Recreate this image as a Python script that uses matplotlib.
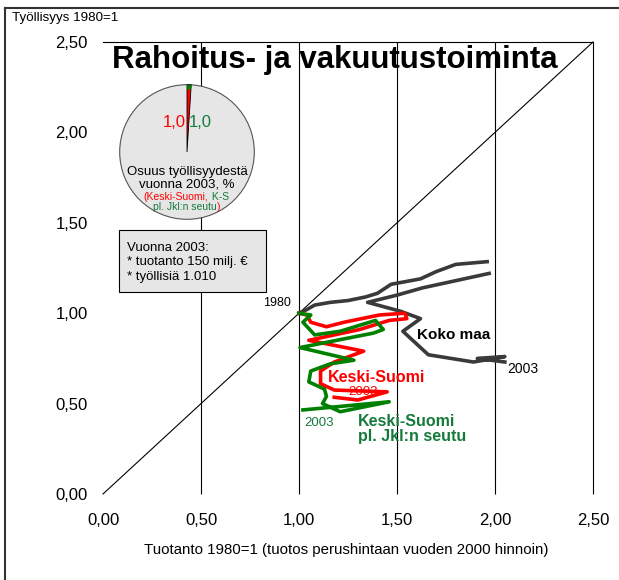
import matplotlib
matplotlib.use('Agg')
import matplotlib.pyplot as plt
from matplotlib.patches import Wedge, Circle, Rectangle
from matplotlib.lines import Line2D

plt.rcParams['font.family'] = ['Liberation Sans', 'DejaVu Sans']

nan = float('nan')

# Tuotanto (x) ja työllisyys (y), 1980=1
koko_x = [1.00, 1.04, 1.08, 1.16, 1.25, 1.34, 1.40, 1.47, 1.62, 1.70, 1.80, 1.96, nan,
          1.97, 1.80, 1.63, 1.50, 1.35, 1.52, 1.62, 1.53, 1.66, 1.89, 2.05, 1.91, 2.05]
koko_y = [1.00, 1.02, 1.045, 1.06, 1.07, 1.09, 1.11, 1.16, 1.19, 1.23, 1.27, 1.285, nan,
          1.22, 1.18, 1.14, 1.10, 1.06, 1.01, 0.97, 0.90, 0.77, 0.73, 0.76, 0.75, 0.73]

ks_x = [1.00, 1.04, 1.06, 1.14, 1.23, 1.41, 1.54, 1.55, 1.46, 1.31, 1.05, 1.33,
        1.18, 1.11, 1.11, 1.18, 1.45, 1.30, 1.18]
ks_y = [1.00, 0.99, 0.95, 0.925, 0.95, 0.99, 1.00, 0.97, 0.96, 0.91, 0.85, 0.79,
        0.73, 0.68, 0.61, 0.575, 0.565, 0.52, 0.535]

ksj_x = [1.00, 1.06, 1.02, 1.08, 1.21, 1.39, 1.43, 1.38, 1.005, 1.28, 1.16, 1.06,
         1.05, 1.13, 1.14, 1.12, 1.21, 1.46, 1.02]
ksj_y = [1.00, 0.99, 0.95, 0.88, 0.90, 0.96, 0.91, 0.89, 0.81, 0.74, 0.72, 0.68,
         0.62, 0.58, 0.54, 0.50, 0.455, 0.51, 0.465]

# osuus koko maan työllisyydestä 2003, %
osuus_ks = 1.0
osuus_ksj = 1.0

ticks = [0.0, 0.5, 1.0, 1.5, 2.0, 2.5]
tick_labels = ['%.2f' % t for t in ticks]
tick_labels = [s.replace('.', ',') for s in tick_labels]

W, H = 619, 580
fig = plt.figure(figsize=(W / 100, H / 100), dpi=100)

def fx(px):
    return px / W

def fy(py):
    return 1 - py / H

ax = fig.add_axes([fx(103), fy(494), 490 / W, 452 / H])
ax.set_xlim(0, 2.5)
ax.set_ylim(0, 2.5)
for s in ['left', 'right', 'bottom']:
    ax.spines[s].set_visible(False)
ax.spines['top'].set_linewidth(0.8)
ax.vlines(ticks[1:], 0, 2.5, color='black', lw=0.8, clip_on=False)
ax.plot([0, 2.5], [0, 2.5], color='black', lw=0.8, clip_on=False)

ax.set_xticks(ticks)
ax.set_xticklabels(tick_labels)
ax.set_yticks(ticks)
ax.set_yticklabels(tick_labels)
ax.tick_params(axis='both', length=0, labelsize=12)
ax.tick_params(axis='x', pad=14)
ax.tick_params(axis='y', pad=11)

lw = 2.6
ax.plot(koko_x, koko_y, color='#3a3a3a', lw=lw, solid_joinstyle='round', zorder=3)
ax.plot(ks_x, ks_y, color='#ff0000', lw=lw, solid_joinstyle='round', zorder=4)
ax.plot(ksj_x, ksj_y, color='#008000', lw=lw, solid_joinstyle='round', zorder=5)

green_txt = '#157a3c'
ax.text(0.89, 1.056, '1980', fontsize=9, ha='center', va='center')
ax.text(1.60, 0.88, 'Koko maa', fontsize=11, fontweight='bold', ha='left', va='center')
ax.text(2.065, 0.69, '2003', fontsize=10, ha='left', va='center')
ax.text(1.148, 0.645, 'Keski-Suomi', fontsize=11.5, fontweight='bold', color='red',
        ha='left', va='center', zorder=6)
ax.text(1.327, 0.565, '2003', fontsize=9.5, color='red', ha='center', va='center', zorder=6)
ax.text(1.10, 0.39, '2003', fontsize=9.5, color=green_txt, ha='center', va='center')
ax.text(1.30, 0.40, 'Keski-Suomi', fontsize=11.5, fontweight='bold', color=green_txt,
        ha='left', va='center')
ax.text(1.30, 0.318, 'pl. Jkl:n seutu', fontsize=11.5, fontweight='bold', color=green_txt,
        ha='left', va='center')

# otsikot
fig.text(fx(335), fy(60), 'Rahoitus- ja vakuutustoiminta', fontsize=22.5,
         fontweight='bold', ha='center', va='center', zorder=10)
fig.text(fx(12), fy(18), 'Työllisyys 1980=1', fontsize=9.6, ha='left', va='center')
fig.text(fx(346), fy(550), 'Tuotanto 1980=1 (tuotos perushintaan vuoden 2000 hinnoin)',
         fontsize=10.8, ha='center', va='center')

# kehys
fig.add_artist(Line2D([fx(5), fx(5)], [fy(8), 0], color='#333333', lw=1.5))
fig.add_artist(Line2D([fx(5), 1], [fy(8), fy(8)], color='#333333', lw=1.5))

# piirakka
pax = fig.add_axes([fx(117), fy(222), 140 / W, 140 / H], zorder=6)
pax.set_xlim(-1.04, 1.04)
pax.set_ylim(-1.04, 1.04)
pax.axis('off')
pax.add_patch(Circle((0, 0), 1, fc='#e6e6e6', ec='#555555', lw=0.8))
pax.add_patch(Wedge((0, 0), 1, 90 - 3.6 * osuus_ks, 90, fc='#ff0000', ec='black', lw=0.6))
pax.add_patch(Wedge((0, 0), 1, 90 - 3.6 * osuus_ksj, 90, width=0.07, fc='#008000',
                    ec='none'))
pax.text(-0.02, 0.44, ('%.1f' % osuus_ks).replace('.', ','), fontsize=12, color='red',
         ha='right', va='center')
pax.text(0.02, 0.44, ('%.1f' % osuus_ksj).replace('.', ','), fontsize=12, color=green_txt,
         ha='left', va='center')
pax.text(0, -0.30, 'Osuus työllisyydestä', fontsize=9.5, ha='center', va='center')
pax.text(0, -0.49, 'vuonna 2003, %', fontsize=9.5, ha='center', va='center')
pax.text(0.32, -0.67, '(Keski-Suomi,', fontsize=7.5, color='red', ha='right', va='center')
pax.text(0.32, -0.67, ' K-S', fontsize=7.5, color=green_txt, ha='left', va='center')
pax.text(0.44, -0.81, 'pl. Jkl:n seutu', fontsize=7.5, color=green_txt, ha='right',
         va='center')
pax.text(0.44, -0.81, ')', fontsize=7.5, color='red', ha='left', va='center')

# tietolaatikko
fig.add_artist(Rectangle((fx(119), fy(292)), 147 / W, 62 / H, fc='#e6e6e6', ec='black',
                         lw=0.8, transform=fig.transFigure, zorder=6))
box_lines = ['Vuonna 2003:', '* tuotanto 150 milj. €', '* työllisiä 1.010']
for i, s in enumerate(box_lines):
    fig.text(fx(127), fy(248 + 14.5 * i), s, fontsize=9.5, ha='left', va='center', zorder=7)

fig.savefig('out.png', dpi=100)
